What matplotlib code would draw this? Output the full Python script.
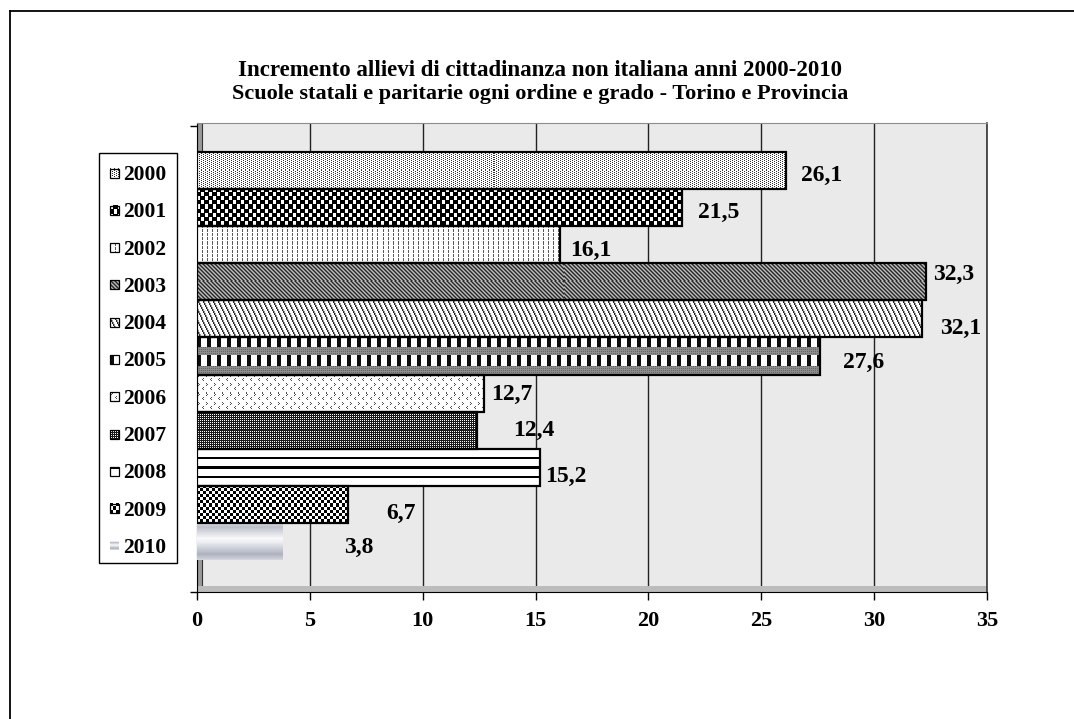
import numpy as np
import matplotlib
matplotlib.use('Agg')
import matplotlib.pyplot as plt
from matplotlib.patches import Rectangle


# data
years = ['2000', '2001', '2002', '2003', '2004', '2005',
         '2006', '2007', '2008', '2009', '2010']
values = [26.1, 21.5, 16.1, 32.3, 32.1, 27.6, 12.7, 12.4, 15.2, 6.7, 3.8]
x_ticks = [0, 5, 10, 15, 20, 25, 30, 35]
title_lines = ['Incremento allievi di cittadinanza non italiana anni 2000-2010',
               'Scuole statali e paritarie ogni ordine e grado - Torino e Provincia']

# where Excel put the value labels (pixels from the bar end / bar centre)
label_dx = [15, 16, 10, 7, 19, 23, 7, 36, 5, 38, 61]
label_dy = [2, 2, 3, -10, 7, 4, -1, -2, 7, 7, 3]

W, H = 1074, 719
plt.rcParams['font.family'] = ['Liberation Serif', 'DejaVu Serif']
plt.rcParams['font.weight'] = 'bold'
plt.rcParams['font.size'] = 14

fig = plt.figure(figsize=(W / 100, H / 100), dpi=100)


def px_axes(l, t, r, b):
    return fig.add_axes([l / W, 1 - b / H, (r - l) / W, (b - t) / H])


# fill patterns, gray levels 0 = black, 1 = white

def checker(n, dark=0.0, light=1.0):
    t = np.full((2 * n, 2 * n), light)
    t[:n, :n] = dark
    t[n:, n:] = dark
    return t

def tile_2001():
    t = np.zeros((8, 8))
    t[0:4, 0:3] = 1
    t[4:8, 4:7] = 1
    return t

def tile_2002():
    t = np.ones((4, 5))
    t[0:3, 0] = 0.35
    return t

def tile_2003():
    return np.array([[.15, .45, .75, .45],
                     [.45, .15, .45, .75],
                     [.75, .45, .15, .45],
                     [.45, .75, .45, .15]])

def tile_2004():
    t = np.ones((10, 5))
    for r in range(10):
        t[r, r // 2] = 0.15
        t[r, (r // 2 + 1) % 5] = 0.6
    return t

def tile_2005():
    t = np.ones((18, 10))
    t[0:10, 0:4] = 0.05
    t[10:18, :] = 0.55
    t[10:18:2, 0::2] = 0.4
    return t

def tile_2006():
    t = np.ones((9, 8))
    for r, c in [(0, 1), (1, 2), (2, 1), (4, 6), (5, 5), (6, 6)]:
        t[r, c] = 0.3
    return t

def tile_2007():
    t = np.full((4, 4), 0.1)
    for r, c in [(1, 1), (1, 3), (3, 1), (3, 3)]:
        t[r, c] = 1.0
    return t

def tile_2008():
    t = np.ones((9, 1))
    t[0:2, 0] = 0.0
    return t

tiles = [
    np.array([[.2, 1, 1, 1], [1, 1, .2, 1]]),
    tile_2001(),
    tile_2002(),
    tile_2003(),
    tile_2004(),
    tile_2005(),
    tile_2006(),
    tile_2007(),
    tile_2008(),
    checker(3),
    None,
]


def fill_image(k, h, w):
    if tiles[k] is None:
        # 2010: shaded cylinder, gray-blue
        pos = np.linspace(0, 1, h)
        g = np.interp(pos, [0, 0.12, 0.45, 0.85, 1.0], [0.85, 0.55, 0.97, 0.45, 0.7])
        base = np.array([0.42, 0.45, 0.55])
        rgb = g[:, None] * np.ones(3) + (1 - g[:, None]) * base
        return np.repeat(rgb[:, None, :], w, axis=1)
    t = tiles[k]
    th, tw = t.shape
    g = np.tile(t, (h // th + 1, w // tw + 1))[:h, :w]
    return np.dstack([g, g, g])


# main axes (back wall)
ax = px_axes(197, 123, 987, 592)
ax.set_facecolor('#eaeaea')
ymin, ymax = 11.36, -1.28
ax.set_xlim(0, 35)
ax.set_ylim(ymin, ymax)

(x0, y0), (x1, y1) = ax.transData.transform([(0, 0), (1, 1)])
ppu_x, ppu_y = abs(x1 - x0), abs(y1 - y0)

ypos = np.arange(len(years))
bars = ax.barh(ypos, values, height=1.0, facecolor='none',
               edgecolor='black', linewidth=1.6, zorder=4)
bars[-1].set_edgecolor('none')

for k, (bar, v) in enumerate(zip(bars, values)):
    h = int(round(ppu_y))
    w = max(1, int(round(v * ppu_x)))
    im = ax.imshow(fill_image(k, h, w), extent=(0, v, k + 0.5, k - 0.5),
                   origin='upper', aspect='auto', interpolation='nearest', zorder=3)
    im.set_clip_path(bar)

for k, v in enumerate(values):
    ax.annotate(f'{v:.1f}'.replace('.', ','), xy=(v, k),
                xytext=(label_dx[k], -(label_dy[k] + 8)), textcoords='offset pixels',
                ha='left', va='baseline', fontsize=17, zorder=5)

ax.set_xlim(0, 35)
ax.set_ylim(ymin, ymax)

# walls and floor
ax.add_patch(Rectangle((0, 0), 5 / 790, 1, transform=ax.transAxes,
                       facecolor='#9a9a9a', edgecolor='#333333', linewidth=0.8, zorder=1.5))
ax.add_patch(Rectangle((0, 0), 1, 6 / 469, transform=ax.transAxes,
                       facecolor='#bcbcbc', edgecolor='none', zorder=1.5))

ax.grid(axis='x', color='#222222', linewidth=1.0)
ax.grid(axis='y', visible=False)
ax.set_axisbelow(True)

ax.set_xticks(x_ticks)
ax.set_xticklabels([str(t) for t in x_ticks])
ax.tick_params(axis='x', length=6, width=1, pad=8, labelsize=16, color='black')
ax.set_yticks([ymax + 0.08, ymin])
ax.set_yticklabels(['', ''])
ax.tick_params(axis='y', length=5, width=1, color='black')

ax.spines['bottom'].set_color('black')
ax.spines['left'].set_color('black')
ax.spines['top'].set_color('#8c8c8c')
ax.spines['right'].set_color('#333333')
ax.spines['right'].set_linewidth(1.2)


# overlay in pixel coordinates: frame, title, legend
ov = fig.add_axes([0, 0, 1, 1], zorder=10)
ov.set_facecolor('none')
ov.axis('off')

ov.plot([10, W + 5], [11, 11], color='black', linewidth=1.3, clip_on=False)
ov.plot([10, 10], [11, H + 5], color='black', linewidth=1.3, clip_on=False)

ov.text(540, 76, title_lines[0], ha='center', va='baseline', fontsize=16.5)
ov.text(540, 99, title_lines[1], ha='center', va='baseline', fontsize=16)

ov.add_patch(Rectangle((99, 153), 78, 410, facecolor='white',
                       edgecolor='black', linewidth=1.0))
for k, year in enumerate(years):
    yc = 173 + 37.3 * k
    ov.imshow(fill_image(k, 9, 9), extent=(110, 119, yc + 4.5, yc - 4.5),
              origin='upper', aspect='auto', interpolation='nearest', zorder=3)
    if k < len(years) - 1:
        ov.add_patch(Rectangle((110, yc - 4.5), 9, 9, facecolor='none',
                               edgecolor='black', linewidth=0.9, zorder=4))
    ov.text(123, yc + 7, year, ha='left', va='baseline', fontsize=15.5)

ov.set_xlim(0, W)
ov.set_ylim(H, 0)

fig.savefig('out.png', dpi=100, facecolor='white')
